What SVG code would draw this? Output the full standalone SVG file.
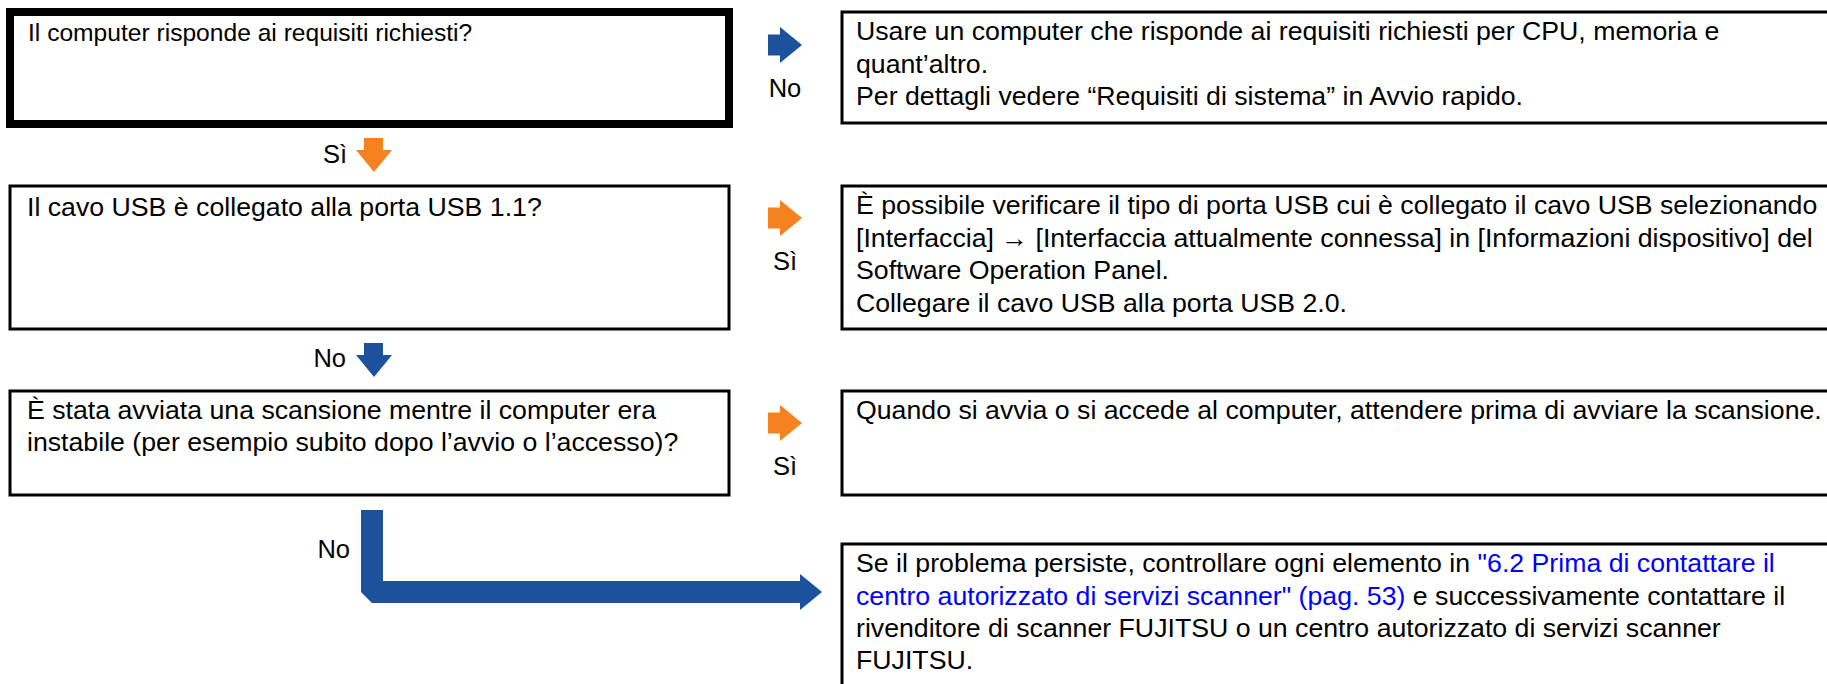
<svg xmlns="http://www.w3.org/2000/svg" width="1827" height="684" viewBox="0 0 1827 684">
<style>
.box{fill:#fff;stroke:#000;stroke-width:3}
.thick{fill:#fff;stroke:#000;stroke-width:8}
.t{font-family:"Liberation Sans",Arial,sans-serif;font-size:26.7px;fill:#000}
.lnk{fill:#0000ff}
.lbl{font-family:"Liberation Sans",Arial,sans-serif;font-size:25.5px;fill:#000}
.blue{fill:#1c519c}
.orange{fill:#f6821f}
</style>
<rect width="1827" height="684" fill="#fff"/>
<g id="q1">
<rect class="thick" x="10" y="12" width="719" height="112"/>
<text class="t" x="28" y="41" style="font-size:24.6px">Il computer risponde ai requisiti richiesti?</text>
</g>
<g id="a1">
<rect class="box" x="842" y="12" width="1000" height="111"/>
<text class="t" x="856" y="40">Usare un computer che risponde ai requisiti richiesti per CPU, memoria e</text>
<text class="t" x="856" y="72.5">quant’altro.</text>
<text class="t" x="856" y="105">Per dettagli vedere “Requisiti di sistema” in Avvio rapido.</text>
</g>
<g id="q2">
<rect class="box" x="10" y="186" width="719" height="143"/>
<text class="t" x="27" y="216">Il cavo USB è collegato alla porta USB 1.1?</text>
</g>
<g id="a2">
<rect class="box" x="842" y="186" width="1000" height="143"/>
<text class="t" x="856" y="214">È possibile verificare il tipo di porta USB cui è collegato il cavo USB selezionando</text>
<text class="t" x="856" y="246.5">[Interfaccia] → [Interfaccia attualmente connessa] in [Informazioni dispositivo] del</text>
<text class="t" x="856" y="279">Software Operation Panel.</text>
<text class="t" x="856" y="311.5">Collegare il cavo USB alla porta USB 2.0.</text>
</g>
<g id="q3">
<rect class="box" x="10" y="391" width="719" height="104"/>
<text class="t" x="27" y="419">È stata avviata una scansione mentre il computer era</text>
<text class="t" x="27" y="451">instabile (per esempio subito dopo l’avvio o l’accesso)?</text>
</g>
<g id="a3">
<rect class="box" x="842" y="391" width="1000" height="104"/>
<text class="t" x="856" y="419">Quando si avvia o si accede al computer, attendere prima di avviare la scansione.</text>
</g>
<g id="a4">
<rect class="box" x="842" y="544" width="1000" height="160"/>
<text class="t" x="856" y="572">Se il problema persiste, controllare ogni elemento in <tspan class="lnk">"6.2 Prima di contattare il</tspan></text>
<text class="t" x="856" y="604.5"><tspan class="lnk">centro autorizzato di servizi scanner" (pag. 53)</tspan> e successivamente contattare il</text>
<text class="t" x="856" y="637">rivenditore di scanner FUJITSU o un centro autorizzato di servizi scanner</text>
<text class="t" x="856" y="669">FUJITSU.</text>
</g>
<g id="connectors">
<polygon class="blue" points="768,34.5 780,34.5 780,27 802,45 780,63 780,55.5 768,55.5"/>
<text class="lbl" x="785" y="97" text-anchor="middle">No</text>
<polygon class="orange" points="364,138 383,138 383,150 392,150 374,172 356,150 364,150"/>
<text class="lbl" x="347" y="163" text-anchor="end">Sì</text>
<polygon class="orange" points="768,207.5 780,207.5 780,200 802,218 780,236 780,228.5 768,228.5"/>
<text class="lbl" x="785" y="270" text-anchor="middle">Sì</text>
<polygon class="blue" points="364,343 383,343 383,355 392,355 374,377 356,355 364,355"/>
<text class="lbl" x="346" y="367" text-anchor="end">No</text>
<polygon class="orange" points="768,412.5 780,412.5 780,405 802,423 780,441 780,433.5 768,433.5"/>
<text class="lbl" x="785" y="475" text-anchor="middle">Sì</text>
<polygon class="blue" points="361,510 383,510 383,581 800,581 800,574 822,592 800,610 800,603 372,603 361,592"/>
<text class="lbl" x="350" y="558" text-anchor="end">No</text>
</g>
</svg>
